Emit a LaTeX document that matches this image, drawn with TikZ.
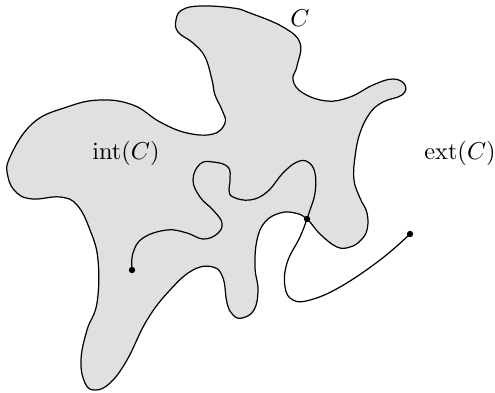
\documentclass[tikz,border=0pt]{standalone}
\usepackage{amsmath}
\usepackage{tikz}
\usetikzlibrary{positioning,calc}

\begin{document}
\begin{tikzpicture}[
        x=0.41pt, y=-0.41pt,
        % Global Styles
        curve/.style={draw=black, line width=0.5pt, line join=round},
        region/.style={curve, fill=black!12},
        dot/.style={circle, fill=black, inner sep=0pt, minimum size=2.6pt},
        label/.style={inner sep=1pt}
    ]
    \useasboundingbox (0,0) rectangle (495,392);

    % --- The Jordan curve C ---
    \draw [region] plot [smooth cycle, tension=0.7] coordinates {
        (182,10) (200,6) (233,8) (250,13) (283,27) (300,43) (297,66) (293,80)
        (303,93) (327,101) (350,97) (373,85) (393,79) (405,85) (402,95)
        (383,102) (370,113) (360,133) (355,157) (354,180) (360,198) (367,213)
        (367,230) (360,241) (350,247) (337,247) (320,234) (307,219)
        (295,213) (280,213) (265,222) (257,240) (255,267) (258,290) (254,310)
        (242,318) (233,315) (227,303) (223,278) (213,267) (193,270) (170,290)
        (147,320) (127,360) (110,383) (95,390) (85,383) (81,360) (87,330)
        (97,303) (98,260) (90,230) (77,205) (60,197) (33,199) (17,193)
        (8,177) (10,157) (33,123) (67,107) (100,100) (133,105) (160,122)
        (187,133) (213,134) (225,123) (222,110) (215,95) (212,80) (205,57)
        (193,43) (178,32) (176,20)};

    % --- End points and crossing ---
    \coordinate (In)    at (132,270);
    \coordinate (Cross) at (307,219);
    \coordinate (Out)   at (410,234);

    % Path from the interior to the exterior
    \draw [curve] plot [smooth, tension=0.7] coordinates {
        (In) (133,253) (143,238) (167,230) (187,233) (203,239) (217,234)
        (222,223) (213,210) (200,197) (193,180) (200,164) (213,162) (228,167)
        (230,180) (229,190) (233,197) (250,200) (267,192) (283,173) (297,162)
        (308,162) (315,173) (315,193) (310,210) (Cross) (300,237) (287,263)
        (285,287) (293,300) (310,300) (340,287) (380,260) (Out)};

    \node [dot] (a) at (In) {};
    \node [dot] (b) at (Cross) {};
    \node [dot] (c) at (Out) {};

    % Labels
    \node [label] (lC)   at (300,18)  {$C$};
    \node [label] (lint) at (126,153) {$\operatorname{int}(C)$};
    \node [label] (lext) at (460,153) {$\operatorname{ext}(C)$};

\end{tikzpicture}
\end{document}
